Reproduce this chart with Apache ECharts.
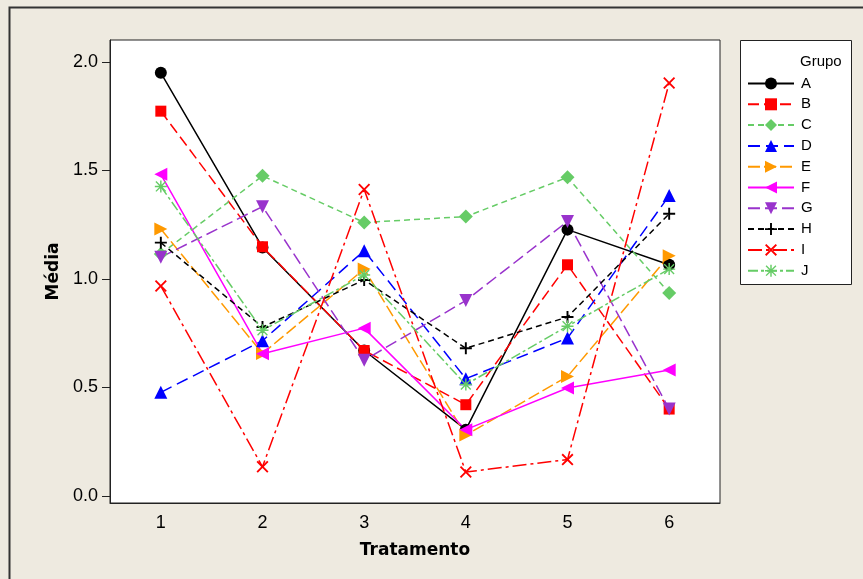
<!DOCTYPE html>
<html>
<head>
<meta charset="utf-8">
<script src="https://cdn.jsdelivr.net/npm/echarts@6/dist/echarts.min.js"></script>
<style>
  html, body { margin: 0; padding: 0; background: #EEEAE0; }
  #main { width: 863px; height: 579px; }
</style>
</head>
<body>
<div id="main"></div>
<script>
// tratamentos no eixo x
var tratamentos = ['1', '2', '3', '4', '5', '6'];
var yTicks = [0, 0.5, 1.0, 1.5, 2.0];

// medias por grupo
var grupoA = [1.95, 1.145, 0.67, 0.305, 1.227, 1.065];
var grupoB = [1.773, 1.148, 0.67, 0.42, 1.065, 0.40];
var grupoC = [1.115, 1.475, 1.26, 1.287, 1.468, 0.935];
var grupoD = [0.477, 0.715, 1.13, 0.54, 0.727, 1.384];
var grupoE = [1.23, 0.656, 1.045, 0.28, 0.55, 1.107];
var grupoF = [1.482, 0.655, 0.773, 0.305, 0.497, 0.58];
var grupoG = [1.10, 1.333, 0.625, 0.90, 1.265, 0.40];
var grupoH = [1.167, 0.778, 0.995, 0.68, 0.824, 1.30];
var grupoI = [0.967, 0.134, 1.412, 0.11, 0.167, 1.903];
var grupoJ = [1.426, 0.763, 1.018, 0.513, 0.782, 1.045];

var plus = 'path://M4.2,0H5.8V4.2H10V5.8H5.8V10H4.2V5.8H0V4.2H4.2Z';
var cruz = 'path://M1.1,0L5,3.9L8.9,0L10,1.1L6.1,5L10,8.9L8.9,10L5,6.1L1.1,10L0,8.9L3.9,5L0,1.1Z';
var asterisco = 'path://M4.4,0H5.6V4.4H10V5.6H5.6V10H4.4V5.6H0V4.4H4.4Z M1.3,0.5L5,4.2L8.7,0.5L9.5,1.3L5.8,5L9.5,8.7L8.7,9.5L5,5.8L1.3,9.5L0.5,8.7L4.2,5L0.5,1.3Z';

function serie(nome, dados, cor, tipo, simbolo, tam) {
    return {
        name: nome,
        type: 'line',
        data: dados,
        symbol: simbolo,
        symbolSize: tam,
        showAllSymbol: true,
        lineStyle: { color: cor, width: 1.5, type: tipo },
        itemStyle: { color: cor, borderColor: cor, borderWidth: 0 },
        emphasis: { disabled: true },
        z: 3
    };
}

var myChart = echarts.init(document.getElementById('main'));

var option = {
    backgroundColor: '#EEEAE0',
    animation: false,
    textStyle: { fontFamily: 'Liberation Sans, Arial, sans-serif' },
    grid: {
        left: 110, right: 143, top: 40, bottom: 76,
        show: true, backgroundColor: '#ffffff', borderColor: '#222', borderWidth: 1
    },
    graphic: [
        // moldura externa
        { type: 'rect', shape: { x: 9.5, y: 7.5, width: 900, height: 600 },
          style: { fill: null, stroke: '#333', lineWidth: 2 }, z: 1 },
        // caixa da legenda
        { type: 'rect', shape: { x: 740.5, y: 40.5, width: 111, height: 244 },
          style: { fill: '#ffffff', stroke: '#222', lineWidth: 1 }, z: 1 },
        { type: 'text', left: 800, top: 54,
          style: { text: 'Grupo', font: '15px Liberation Sans, Arial, sans-serif', fill: '#000' }, z: 5 }
    ],
    legend: {
        orient: 'vertical',
        left: 742, top: 71,
        itemWidth: 46, itemHeight: 15,
        itemGap: 5.8,
        textStyle: { fontSize: 15, color: '#000', padding: [0, 0, 0, 2] },
        selectedMode: false,
        z: 6
    },
    xAxis: {
        type: 'category',
        data: tratamentos,
        boundaryGap: true,
        name: 'Tratamento',
        nameLocation: 'middle',
        nameGap: 39,
        nameTextStyle: { fontFamily: 'DejaVu Sans', fontWeight: 'bold', fontSize: 17, color: '#000' },
        axisLine: { onZero: false, lineStyle: { color: '#222', width: 1 } },
        axisTick: { alignWithLabel: true, length: 7, lineStyle: { color: '#222' } },
        axisLabel: { fontSize: 18, color: '#000', margin: 11 },
        splitLine: { show: false }
    },
    yAxis: {
        type: 'value',
        min: -0.033,
        max: 2.101,
        name: 'Média',
        nameLocation: 'middle',
        nameGap: 47,
        nameTextStyle: { fontFamily: 'DejaVu Sans', fontWeight: 'bold', fontSize: 17, color: '#000' },
        axisLine: { show: true, lineStyle: { color: '#222', width: 1 } },
        axisTick: { show: true, length: 8, customValues: yTicks, lineStyle: { color: '#222' } },
        axisLabel: {
            fontSize: 18, color: '#000', margin: 12,
            customValues: yTicks,
            formatter: function (v) { return v.toFixed(1); }
        },
        splitLine: { show: false }
    },
    series: [
        serie('A', grupoA, '#000000', 'solid', 'circle', 12),
        serie('B', grupoB, '#FF0000', [11, 5], 'rect', 11),
        serie('C', grupoC, '#66CC66', [6, 4], 'diamond', 14),
        serie('D', grupoD, '#0000FF', [12, 6], 'triangle', 13),
        serie('E', grupoE, '#FF9900', [12, 4], 'path://M0,0L10,5L0,10Z', 13),
        serie('F', grupoF, '#FF00FF', 'solid', 'path://M10,0L0,5L10,10Z', 13),
        serie('G', grupoG, '#9933CC', [12, 5], 'path://M0,0L10,0L5,10Z', 13),
        serie('H', grupoH, '#000000', [6, 4], plus, 12),
        serie('I', grupoI, '#FF0000', [14, 4, 3, 4], cruz, 12),
        serie('J', grupoJ, '#66CC66', [10, 3, 3, 3], asterisco, 12)
    ]
};

myChart.setOption(option);
</script>
</body>
</html>
